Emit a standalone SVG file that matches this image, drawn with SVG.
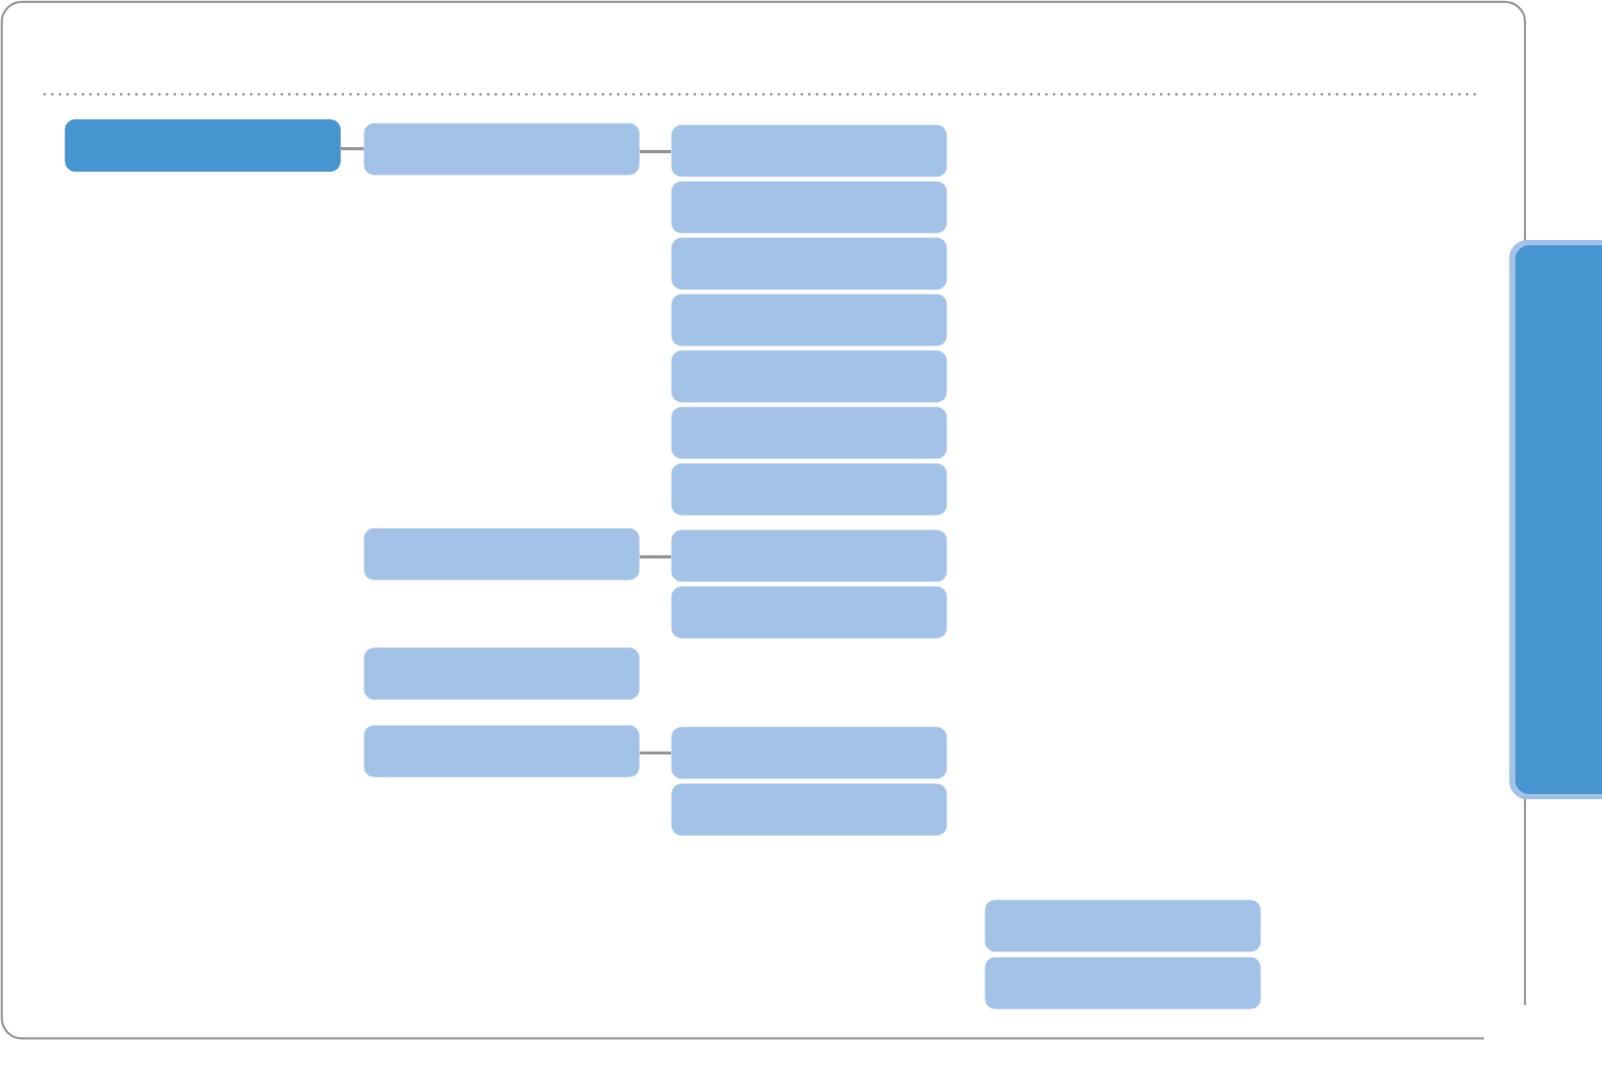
<svg xmlns="http://www.w3.org/2000/svg" width="1602" height="1074" viewBox="0 0 1602 1074">
<style>
.frame{fill:none;stroke:#9a9a9c;stroke-width:2.2}
.dots{fill:none;stroke:#999999;stroke-width:2.8;stroke-linecap:round;stroke-dasharray:0 7.6471}
.root{fill:#4694d0;stroke:#7fb3df;stroke-width:0.8}
.node{fill:#a3c2e7;stroke:#c6daf1;stroke-width:0.8}
.conn{stroke:#969698;stroke-width:3.2;fill:none}
</style>
<rect width="1602" height="1074" fill="#ffffff"/>
<path class="frame" d="M1484,1038.3 H22 A20,20 0 0 1 1.8,1018 V22 A20,20 0 0 1 22,1.8 H1505 A20,20 0 0 1 1525,22 V1005"/>
<line class="dots" x1="44.7" y1="94.3" x2="1474.8" y2="94.3"/>
<g id="connectors">
<line class="conn" x1="340" y1="148.7" x2="365" y2="148.7"/>
<line class="conn" x1="639" y1="151.7" x2="672" y2="151.7"/>
<line class="conn" x1="639" y1="556.8" x2="672" y2="556.8"/>
<line class="conn" x1="639" y1="753" x2="672" y2="753"/>
</g>
<g id="root"><rect class="root" x="65" y="119.5" width="275.5" height="52" rx="10"/></g>
<g id="l1a"><rect class="node" x="364" y="123.3" width="275.3" height="51.7" rx="10"/></g>
<g id="l1b"><rect class="node" x="364" y="528.3" width="275.3" height="51.7" rx="10"/></g>
<g id="l1c"><rect class="node" x="364" y="647.8" width="275.3" height="51.7" rx="10"/></g>
<g id="l1d"><rect class="node" x="364" y="725.4" width="275.3" height="51.7" rx="10"/></g>
<g id="l2a"><rect class="node" x="671.5" y="125" width="275.3" height="51.7" rx="10"/></g>
<g id="l2b"><rect class="node" x="671.5" y="181.4" width="275.3" height="51.7" rx="10"/></g>
<g id="l2c"><rect class="node" x="671.5" y="237.8" width="275.3" height="51.7" rx="10"/></g>
<g id="l2d"><rect class="node" x="671.5" y="294.2" width="275.3" height="51.7" rx="10"/></g>
<g id="l2e"><rect class="node" x="671.5" y="350.6" width="275.3" height="51.7" rx="10"/></g>
<g id="l2f"><rect class="node" x="671.5" y="407" width="275.3" height="51.7" rx="10"/></g>
<g id="l2g"><rect class="node" x="671.5" y="463.5" width="275.3" height="51.7" rx="10"/></g>
<g id="l2h"><rect class="node" x="671.5" y="530" width="275.3" height="51.7" rx="10"/></g>
<g id="l2i"><rect class="node" x="671.5" y="586.6" width="275.3" height="51.7" rx="10"/></g>
<g id="l2j"><rect class="node" x="671.5" y="727" width="275.3" height="51.7" rx="10"/></g>
<g id="l2k"><rect class="node" x="671.5" y="783.8" width="275.3" height="51.7" rx="10"/></g>
<g id="b1"><rect class="node" x="985" y="900" width="275.7" height="51.7" rx="10"/></g>
<g id="b2"><rect class="node" x="985" y="957.3" width="275.7" height="51.7" rx="10"/></g>
<g id="tab">
<rect x="1509.3" y="240" width="120" height="559.3" rx="18" fill="#a3c2e7"/>
<rect x="1515.3" y="245.3" width="120" height="548.7" rx="14" fill="#4694d0"/>
</g>
</svg>
